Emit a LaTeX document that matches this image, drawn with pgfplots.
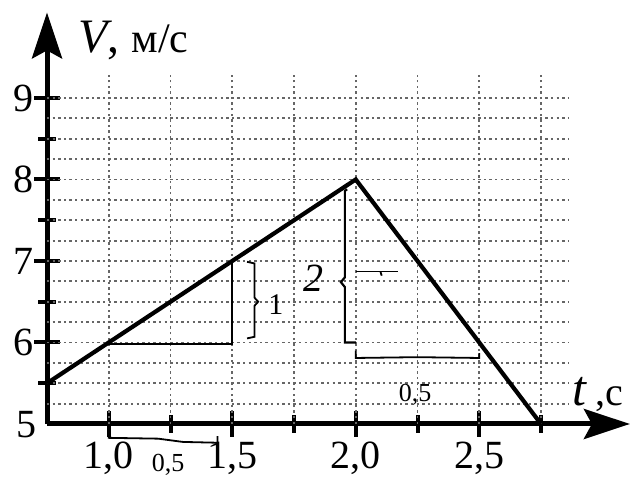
\documentclass[border=0pt]{standalone}
\usepackage{fontspec}
\setmainfont{Liberation Serif}
\usepackage{pgfplots}
\pgfplotsset{compat=1.18}
\usetikzlibrary{arrows.meta}
\begin{document}
\begin{tikzpicture}
\begin{axis}[
  x=123.5pt, y=40.75pt,
  xmin=0.75, xmax=3.11, ymin=5, ymax=10.05,
  axis lines=left,
  axis line style={line width=2.5pt, -{Stealth[length=23pt,width=15pt,inset=4pt]}},
  clip=false,
  xtick={1,1.5,2,2.5}, xticklabels={{1,0},{1,5},{2,0},{2,5}},
  minor xtick={1.25,1.75,2.25,2.75},
  ytick={6,7,8,9}, yticklabels={6,7,8,9},
  minor ytick={5.5,6.5,7.5,8.5},
  tick align=center,
  major tick length=13pt, minor tick length=9pt,
  every tick/.style={black, line width=2pt},
  tick label style={font=\fontsize{20}{22}\selectfont},
  xticklabel style={yshift=1pt},
  yticklabel style={xshift=3.5pt},
]
% grid (dotted)
\pgfplotsinvokeforeach{1,1.25,1.5,1.75,2,2.25,2.5,2.75}{
  \draw[black!60, line width=0.9pt, dash pattern=on 1.2pt off 1.6pt] (axis cs:#1,5) -- (axis cs:#1,9.28);
}
\pgfplotsinvokeforeach{5.25,5.5,5.75,6,6.25,6.5,6.75,7,7.25,7.5,7.75,8,8.25,8.5,8.75,9}{
  \draw[black!60, line width=0.9pt, dash pattern=on 1.2pt off 1.6pt] (axis cs:0.75,#1) -- (axis cs:2.86,#1);
}
% velocity graph
\addplot[black, line width=2.1pt, mark=none] coordinates {(0.75,5.5) (2,8) (2.75,5)};
% handwritten annotations
\draw[black, line width=1.1pt] (axis cs:1.0,5.98) -- (axis cs:1.5,5.98) -- (axis cs:1.5,7.0);
\draw[black, line width=0.9pt] (axis cs:1.56,6.99) -- (axis cs:1.59,6.97) -- (axis cs:1.59,6.55) -- (axis cs:1.605,6.5) -- (axis cs:1.59,6.45) -- (axis cs:1.59,6.07) -- (axis cs:1.56,6.05);
\node[font=\fontsize{15}{16}\selectfont] at (axis cs:1.677,6.47) {1};
\draw[black, line width=1.1pt] (axis cs:1.965,7.88) -- (axis cs:1.956,7.86) -- (axis cs:1.956,6.8) -- (axis cs:1.94,6.74) -- (axis cs:1.956,6.68) -- (axis cs:1.956,6.0) -- (axis cs:2.0,6.0);
\node[font=\fontsize{20}{21}\selectfont\itshape] at (axis cs:1.827,6.79) {2};
\draw[black, line width=0.9pt] (axis cs:2.0,6.87) -- (axis cs:2.17,6.87);
\draw[black, line width=0.9pt] (axis cs:2.1,6.87) -- (axis cs:2.105,6.82);
\draw[black, line width=0.9pt] (axis cs:2.0,5.9) -- (axis cs:2.0,5.81) -- (axis cs:2.25,5.82) -- (axis cs:2.5,5.81) -- (axis cs:2.5,5.87);
\node[font=\fontsize{13}{14}\selectfont] at (axis cs:2.24,5.36) {0,5};
\draw[black, line width=0.9pt] (axis cs:1.0,4.97) -- (axis cs:1.0,4.83) -- (axis cs:1.2,4.82) -- (axis cs:1.3,4.78) -- (axis cs:1.44,4.77) -- (axis cs:1.44,4.85);
\node[font=\fontsize{13}{14}\selectfont] at (axis cs:1.24,4.50) {0,5};
% axis labels
\node[anchor=base west, inner sep=0pt] at (axis cs:0.875,9.56) {\fontsize{24}{26}\selectfont\textit{V}, \fontsize{21}{22}\selectfont м/с};
\node[anchor=base west, inner sep=0pt] at (axis cs:2.875,5.23) {\fontsize{25}{27}\selectfont\textit{t}\,\fontsize{20}{22}\selectfont,с};
\node[font=\fontsize{20}{22}\selectfont] at (axis cs:0.665,4.99) {5};
% bounding box
\path (axis cs:0.5597,4.3865) rectangle (axis cs:3.1306,10.2025);
\end{axis}
\end{tikzpicture}
\end{document}
